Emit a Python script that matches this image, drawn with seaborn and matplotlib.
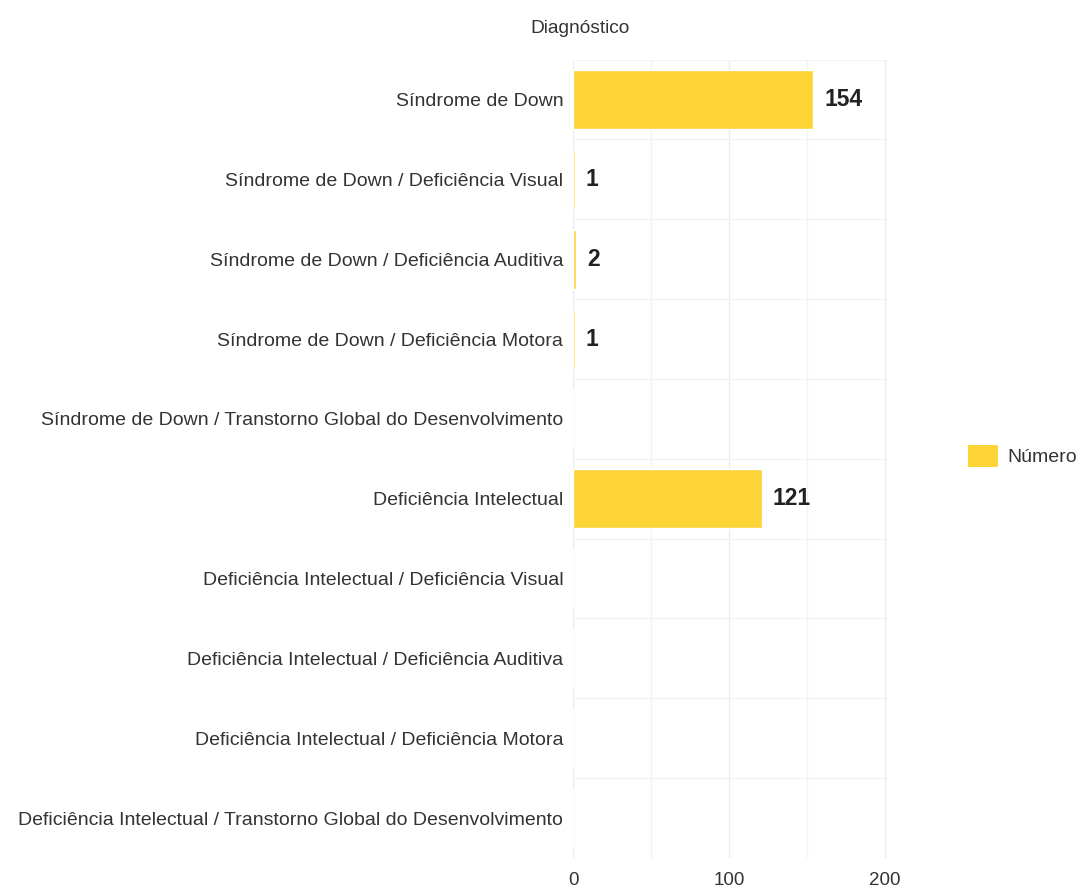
import matplotlib
matplotlib.use("Agg")
import matplotlib.pyplot as plt
import seaborn as sns
import pandas as pd
import numpy as np
from matplotlib.patches import Patch

categories = [
    "Síndrome de Down",
    "Síndrome de Down / Deficiência Visual",
    "Síndrome de Down / Deficiência Auditiva",
    "Síndrome de Down / Deficiência Motora",
    "Síndrome de Down / Transtorno Global do Desenvolvimento",
    "Deficiência Intelectual",
    "Deficiência Intelectual / Deficiência Visual",
    "Deficiência Intelectual / Deficiência Auditiva",
    "Deficiência Intelectual / Deficiência Motora",
    "Deficiência Intelectual / Transtorno Global do Desenvolvimento",
]
values = [154, 1, 2, 1, 0, 121, 0, 0, 0, 0]
xticks = [0, 100, 200]

sns.set_theme(style="white")
plt.rcParams['font.family'] = ['Liberation Sans', 'DejaVu Sans']

df = pd.DataFrame({"Diagnóstico": categories, "Número": values})
color = "#FDD436"

fig = plt.figure(figsize=(10.8, 8.9), dpi=100)
ax = fig.add_axes([0.5306, 0.036, 0.2917, 0.897])
sns.barplot(data=df, y="Diagnóstico", x="Número", orient="h", color=color,
            width=0.74, ax=ax, saturation=1, order=categories)

ax.set_xlim(0, 202)
ax.set_ylim(len(categories) - 0.5, -0.5)
ax.set_xticks(xticks)
ax.set_xticklabels([str(t) for t in xticks], fontsize=13.5, color="#333333")
ax.set_xticks([50, 150], minor=True)
ax.set_yticks(np.arange(len(categories)) - 0.5, minor=True)
ax.tick_params(axis="y", labelsize=14, labelcolor="#333333", length=0, pad=7)
ax.tick_params(axis="x", length=0, pad=10)
ax.grid(True, which="major", axis="x", color="#ececec", lw=1)
ax.grid(True, which="minor", axis="both", color="#f3f3f3", lw=1)
ax.set_axisbelow(True)
for s in ax.spines.values():
    s.set_visible(False)
ax.set_xlabel("")
ax.set_ylabel("")

for i, v in enumerate(values):
    if v > 0:
        ax.text(v + 7, i, str(v), va="center", ha="left", fontsize=16.5,
                fontweight="bold", color="#222222")

fig.text(0.537, 0.968, "Diagnóstico", ha="center", va="center", fontsize=13.8, color="#333333")

fig.legend(handles=[Patch(facecolor=color, edgecolor="none")], labels=["Número"],
           loc="center left", bbox_to_anchor=(968 / 1080, 1 - 456 / 890), frameon=False,
           fontsize=14, handlelength=1.54, handleheight=1.43, handletextpad=0.46,
           borderpad=0, borderaxespad=0, labelcolor="#333333")

fig.savefig("out.png", dpi=100)
